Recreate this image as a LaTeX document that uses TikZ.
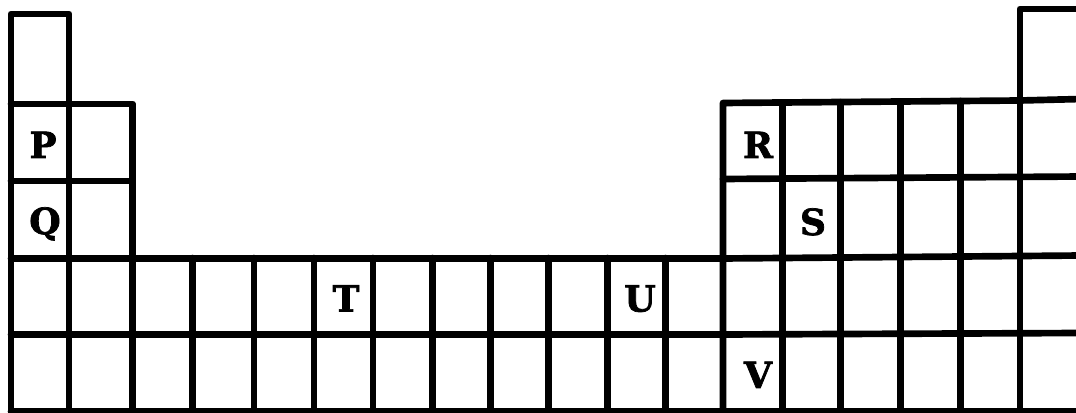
\documentclass[tikz,border=0pt]{standalone}
\usepackage{fontspec}
\newfontfamily\letterfont[BoldFeatures={FakeBold=2}]{DejaVu Serif}
\begin{document}
\begin{tikzpicture}[x=0.75pt,y=-0.75pt,
  gridline/.style={line width=5pt,line join=round,line cap=round,black},
  elem/.style={inner sep=0pt,anchor=base,font=\letterfont\bfseries\fontsize{27}{27}\selectfont}]
\useasboundingbox (0,0) rectangle (1076,413);
% column positions
\def\Xa{11}\def\Xb{69}\def\Xc{132.5}
\def\Xr{723}\def\Xend{1082}
% ---- left block (groups 1,2) ----
\draw[gridline] (\Xa,411) -- (\Xa,14) -- (\Xb,14) -- (\Xb,411);
\draw[gridline] (\Xb,104) -- (\Xc,104) -- (\Xc,411);
\draw[gridline] (\Xa,104) -- (\Xb,104);
\draw[gridline] (\Xa,181) -- (\Xc,181);
% ---- transition block vertical lines ----
\foreach \x in {192.7,254,314,373,432.5,490.5,548.5,607.5,665.5}
  \draw[gridline] (\x,258) -- (\x,411);
% ---- right block (groups 13-18) ----
\draw[gridline] (\Xr,411) -- (\Xr,103) -- (1020,100.5);
\draw[gridline] (1020,100.5) -- (\Xend,99);
\foreach \x/\yt in {782.5/102.6,840.5/102.1,900.5/101.6,960.5/101}
  \draw[gridline] (\x,\yt) -- (\x,411);
\draw[gridline] (1020,411) -- (1020,9) -- (\Xend,9);
\draw[gridline] (\Xr,179) -- (\Xend,176.5);
% ---- rows spanning whole table ----
\draw[gridline] (\Xa,258.5) -- (\Xr,258.5) -- (\Xend,255.5);
\draw[gridline] (\Xa,334.5) -- (\Xr,334.5) -- (\Xend,333);
\draw[gridline] (\Xa,411.5) -- (\Xend,411.5);
% ---- element labels ----
\node[elem] (P) at (43,158) {P};
\node[elem] (Q) at (45,234) {Q};
\node[elem] (T) at (346,311.5) {T};
\node[elem] (U) at (640,311.5) {U};
\node[elem] (R) at (758,158) {R};
\node[elem] (S) at (813,235) {S};
\node[elem] (V) at (758,388) {V};
\end{tikzpicture}
\end{document}
